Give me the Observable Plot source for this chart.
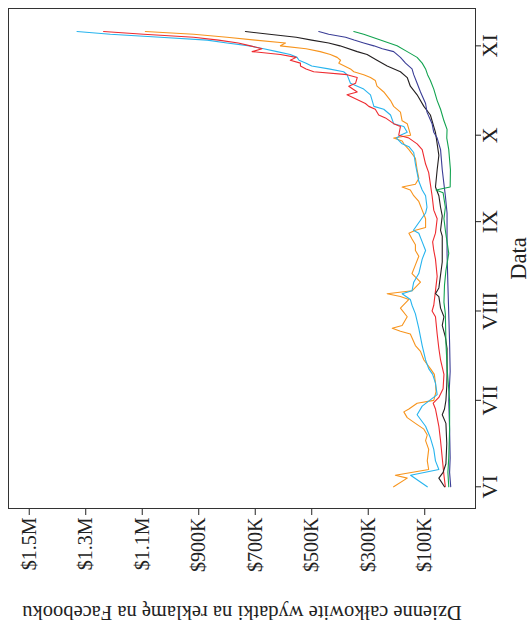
<!DOCTYPE html>
<html><head><meta charset="utf-8">
<script src="https://cdn.jsdelivr.net/npm/d3@7"></script>
<script src="https://cdn.jsdelivr.net/npm/@observablehq/plot@0.6"></script>
<style>
html,body{margin:0;padding:0;background:#fff;}
#wrap{position:relative;width:530px;height:624px;overflow:hidden;background:#fff;}
#chart{position:absolute;left:0;top:0;width:624px;height:530px;transform-origin:0 0;transform:translate(0,624px) rotate(-90deg);}
</style></head><body>
<div id="wrap"><div id="chart"></div></div>
<script>
const year = 2020;
const yTitle = "Dzienne całkowite wydatki na reklamę na Facebooku";
const xTitle = "Data";
const monthTicks = ["06-01","07-01","08-01","09-01","10-01","11-01"];
const monthLabels = ["VI","VII","VIII","IX","X","XI"];
const valueTicks = [100,300,500,700,900,1100,1300,1500]; // thousands of $
const valueTickLabels = ["$100K","$300K","$500K","$700K","$900K","$1.1M","$1.3M","$1.5M"];
const seriesNames = ["s1","s2","s3","s4","s5","s6"];
const seriesColors = ["#f7941d","#27b4ee","#ee2a2f","#231f20","#3a3d96","#12a350"];

// [date (MM-DD), daily spend in thousands of $]
const s1Series = [["06-01",210],["06-04",162],["06-05",204],["06-07",86],["06-10",91],["06-14",86],["06-17",97],["06-19",91],["06-21",103],["06-23",133],["06-25",162],["06-27",174],["06-28",156],["06-30",127],["07-01",68],["07-04",60],["07-07",62],["07-10",66],["07-12",80],["07-15",103],["07-18",115],["07-20",133],["07-24",151],["07-25",186],["07-26",215],["07-27",180],["07-30",162],["08-02",186],["08-05",156],["08-06",186],["08-07",233],["08-08",145],["08-11",115],["08-14",145],["08-17",133],["08-20",121],["08-22",133],["08-24",133],["08-26",145],["08-28",156],["08-29",133],["08-30",97],["09-02",97],["09-05",109],["09-08",121],["09-10",139],["09-12",151],["09-13",180],["09-14",133],["09-16",121],["09-19",127],["09-23",133],["09-26",156],["09-28",174],["09-29",180],["09-30",210],["10-01",150],["10-03",156],["10-05",162],["10-06",180],["10-09",186],["10-11",210],["10-13",221],["10-16",245],["10-18",269],["10-20",275],["10-21",292],["10-22",316],["10-23",351],["10-24",363],["10-26",404],["10-27",398],["10-28",410],["10-29",434],["10-30",470],["10-31",520],["11-01",611],["11-02",593],["11-03",700],["11-04",800],["11-05",918],["11-06",1089]];
const s2Series = [["06-01",91],["06-05",150],["06-07",50],["06-10",62],["06-14",68],["06-18",80],["06-22",97],["06-26",127],["06-29",109],["07-03",56],["07-07",62],["07-10",72],["07-12",86],["07-15",97],["07-20",109],["07-26",121],["07-31",133],["08-03",145],["08-05",151],["08-07",180],["08-08",145],["08-11",139],["08-14",121],["08-19",109],["08-22",97],["08-25",109],["08-28",121],["08-29",140],["09-04",97],["09-06",92],["09-10",97],["09-12",109],["09-15",121],["09-18",127],["09-21",133],["09-25",139],["09-27",156],["09-28",180],["09-30",200],["10-01",186],["10-02",162],["10-04",174],["10-05",210],["10-08",221],["10-10",245],["10-11",280],["10-15",292],["10-17",316],["10-19",363],["10-22",375],["10-23",387],["10-24",440],["10-25",500],["10-26",520],["10-27",545],["10-28",552],["10-29",576],["10-30",623],["10-31",670],["11-01",720],["11-02",800],["11-03",870],["11-04",1036],["11-05",1213],["11-06",1331]];
const s3Series = [["06-01",27],["06-05",32],["06-11",38],["06-17",44],["06-22",50],["06-25",56],["06-28",62],["06-30",70],["07-02",50],["07-05",35],["07-10",32],["07-15",44],["07-19",50],["07-24",56],["07-30",62],["08-01",74],["08-03",68],["08-08",62],["08-13",56],["08-19",62],["08-22",68],["08-25",72],["08-28",62],["09-02",56],["09-05",68],["09-10",74],["09-14",80],["09-18",86],["09-21",97],["09-26",109],["09-28",127],["09-30",156],["10-01",192],["10-04",186],["10-05",210],["10-07",239],["10-08",263],["10-10",275],["10-11",298],["10-12",310],["10-15",375],["10-16",339],["10-18",369],["10-19",345],["10-21",339],["10-22",375],["10-23",493],["10-24",520],["10-25",540],["10-26",540],["10-27",576],["10-28",555],["10-29",611],["10-30",711],["10-31",676],["11-01",717],["11-02",760],["11-03",830],["11-04",918],["11-05",1095],["11-06",1237]];
const s4Series = [["06-01",30],["06-04",50],["06-06",35],["06-09",25],["06-16",22],["06-23",25],["06-26",38],["06-28",30],["07-01",25],["07-06",22],["07-10",21],["07-19",21],["07-23",27],["07-27",38],["07-30",32],["08-02",44],["08-06",50],["08-07",62],["08-09",50],["08-18",38],["08-22",38],["08-27",38],["08-29",44],["09-03",38],["09-06",44],["09-10",50],["09-13",62],["09-19",56],["09-24",50],["09-28",56],["10-02",62],["10-04",68],["10-08",80],["10-11",103],["10-15",127],["10-18",151],["10-21",162],["10-23",186],["10-25",233],["10-27",269],["10-29",304],["10-30",339],["11-01",400],["11-02",440],["11-03",500],["11-04",555],["11-05",650],["11-06",735]];
const s5Series = [["06-01",8],["06-06",12],["06-11",10],["06-21",12],["07-01",15],["07-11",10],["07-21",12],["07-31",15],["08-10",18],["08-21",21],["09-04",21],["09-10",27],["09-14",32],["09-19",38],["09-26",44],["09-30",56],["10-02",68],["10-05",74],["10-09",92],["10-12",97],["10-16",115],["10-19",127],["10-22",139],["10-24",145],["10-26",168],["10-28",186],["10-30",210],["10-31",250],["11-01",280],["11-02",316],["11-03",350],["11-04",380],["11-05",440],["11-06",475]];
const s6Series = [["06-01",15],["06-06",18],["06-11",15],["06-21",12],["07-01",12],["07-11",20],["07-21",25],["07-31",27],["08-04",32],["08-10",30],["08-15",25],["08-21",15],["08-29",27],["09-02",32],["09-06",27],["09-11",35],["09-12",60],["09-13",10],["09-19",9],["09-26",15],["09-30",22],["10-03",21],["10-06",32],["10-10",44],["10-13",56],["10-17",68],["10-20",80],["10-22",90],["10-24",97],["10-26",109],["10-28",127],["10-30",162],["11-01",198],["11-03",257],["11-05",316],["11-06",351]];

const allSeries = [s1Series, s2Series, s3Series, s4Series, s5Series, s6Series];
const parseDay = s => new Date(`${year}-${s}T00:00:00Z`);
const rows = allSeries.flatMap((s, i) => s.map(([d, v]) => ({series: seriesNames[i], date: parseDay(d), value: v * 1000})));

const day = 864e5;
const t0 = parseDay("06-01").getTime();
const xDomain = [new Date(t0 - 7.53 * day), new Date(t0 + 165.96 * day)];
const yDomain = [-79700, 1573400];
const font = '"Liberation Serif", "Times New Roman", serif';

const chart = Plot.plot({
  width: 624,
  height: 530,
  marginLeft: 115,
  marginRight: 9,
  marginTop: 8,
  marginBottom: 55,
  style: {fontFamily: font, fontSize: "20px", color: "#222", background: "white", overflow: "visible"},
  x: {type: "utc", domain: xDomain},
  y: {domain: yDomain},
  color: {type: "ordinal", domain: seriesNames, range: seriesColors},
  marks: [
    Plot.frame({stroke: "#333", strokeWidth: 1}),
    Plot.line(rows, {x: "date", y: "value", z: "series", stroke: "series", strokeWidth: 1.1}),
    Plot.axisY(valueTicks.map(v => v * 1000), {
      tickFormat: d => valueTickLabels[valueTicks.indexOf(Math.round(d / 1000))],
      fontSize: 20, tickSize: 6, tickPadding: 3, label: null
    }),
    Plot.axisX(monthTicks.map(parseDay), {
      tickFormat: d => monthLabels[d.getUTCMonth() - 5],
      fontSize: 22, tickSize: 6, tickPadding: 0, label: null
    }),
    Plot.text([yTitle], {text: d => d, frameAnchor: "left", rotate: -90, dx: -97.5, lineAnchor: "bottom", textAnchor: "middle", fontSize: 20.5}),
    Plot.text([xTitle], {text: d => d, frameAnchor: "bottom", dy: 50, lineAnchor: "bottom", textAnchor: "middle", fontSize: 22.5})
  ]
});
document.getElementById("chart").appendChild(chart);
</script>
</body></html>
